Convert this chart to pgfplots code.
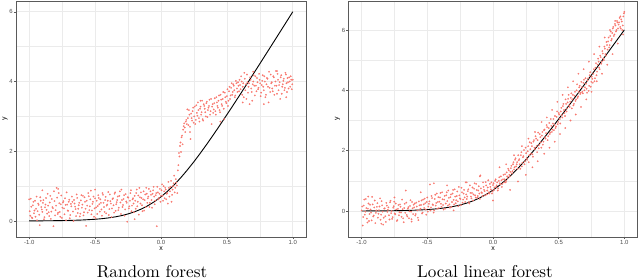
\documentclass[border=0pt]{standalone}
\usepackage{fontspec}
\usepackage{pgfplots}
\usepackage{pgfplotstable}
\pgfplotsset{compat=1.18}
\newfontfamily\ggfont{Liberation Sans}
\newfontfamily\capfont{lmroman10-regular.otf}
\definecolor{ptc}{HTML}{F8766D}
\definecolor{gridc}{HTML}{EBEBEB}
\definecolor{framec}{HTML}{5A5A5A}
\definecolor{tickc}{HTML}{4D4D4D}

\pgfplotstableread{
x rf llf
-1.000 0.62 0.02
-0.992 0.15 -0.48
-0.984 0.41 0.18
-0.976 0.08 -0.12
-0.968 0.55 0.40
-0.960 0.30 -0.25
-0.952 0.12 0.08
-0.944 0.70 -0.33
-0.936 0.28 0.21
-0.928 0.46 -0.05
-0.920 -0.12 0.47
-0.912 0.58 -0.18
-0.904 0.33 0.12
-0.896 0.52 -0.40
-0.888 0.05 0.02
-0.880 0.39 0.26
-0.872 0.66 -0.09
-0.864 0.21 0.15
-0.856 0.44 -0.29
-0.848 0.14 0.33
-0.840 0.72 -0.02
-0.832 0.27 -0.22
-0.824 0.40 0.09
-0.816 -0.15 -0.36
-0.808 0.57 0.18
-0.800 0.31 0.04
-0.792 0.95 -0.14
-0.784 0.20 0.29
-0.776 0.80 -0.07
-0.768 0.26 -0.26
-0.760 0.48 0.11
-0.752 0.09 0.31
-0.744 0.53 -0.11
-0.736 0.36 0.05
-0.728 0.65 -0.30
-0.720 0.02 0.20
-0.712 0.47 -0.04
-0.704 0.29 0.14
-0.696 0.61 -0.19
-0.688 0.17 0.06
-0.680 0.42 -0.37
-0.672 0.55 0.24
-0.664 0.00 0.68
-0.656 0.50 -0.13
-0.648 0.34 0.08
-0.640 0.76 -0.24
-0.632 0.23 0.17
-0.624 0.45 -0.02
-0.616 0.13 0.30
-0.608 0.59 -0.10
-0.600 0.38 0.12
-0.592 0.72 -0.15
-0.584 0.25 0.28
-0.576 0.55 0.02
-0.568 -0.14 -0.30
-0.560 0.44 0.19
-0.552 0.80 0.08
-0.544 0.31 0.35
-0.536 0.62 -0.05
-0.528 0.19 0.22
-0.520 0.49 0.41
-0.512 0.70 0.05
-0.504 0.36 0.30
-0.496 0.08 -0.02
-0.488 0.58 0.24
-0.480 0.43 0.88
-0.472 0.66 0.12
-0.464 0.27 0.43
-0.456 0.52 0.20
-0.448 0.15 0.02
-0.440 0.75 0.54
-0.432 0.40 0.27
-0.424 0.60 0.08
-0.416 0.22 0.46
-0.408 0.47 0.31
-0.400 0.83 0.60
-0.392 0.34 0.14
-0.384 0.57 0.39
-0.376 0.11 0.05
-0.368 0.63 0.50
-0.360 0.45 0.25
-0.352 0.78 0.62
-0.344 0.29 0.18
-0.336 0.54 0.44
-0.328 0.70 0.11
-0.320 0.38 0.55
-0.312 0.85 0.30
-0.304 0.20 0.70
-0.296 0.60 0.22
-0.288 0.46 0.48
-0.280 0.74 0.36
-0.272 0.33 0.65
-0.264 0.56 0.16
-0.256 -0.02 0.52
-0.248 0.67 0.40
-0.240 0.42 0.77
-0.232 0.80 0.28
-0.224 0.28 0.58
-0.216 0.62 0.45
-0.208 0.50 0.95
-0.200 0.72 0.40
-0.192 0.35 0.66
-0.184 0.90 0.30
-0.176 0.55 0.85
-0.168 0.18 0.48
-0.160 0.68 0.60
-0.152 0.82 0.35
-0.144 0.45 0.74
-0.136 0.62 0.52
-0.128 0.30 0.90
-0.120 0.76 0.44
-0.112 0.95 0.68
-0.104 0.52 0.58
-0.096 0.70 1.18
-0.088 0.40 0.62
-0.080 0.85 0.50
-0.072 0.60 0.80
-0.064 0.78 0.66
-0.056 0.98 0.96
-0.048 0.48 0.55
-0.040 0.74 0.78
-0.032 -0.15 0.62
-0.024 0.82 0.90
-0.016 0.66 0.72
-0.008 0.92 0.58
0.000 0.72 0.86
0.008 1.05 0.70
0.016 0.58 1.00
0.024 0.85 0.80
0.032 0.95 0.95
0.040 0.62 0.75
0.048 0.80 1.12
0.056 1.12 0.88
0.064 0.70 1.02
0.072 0.98 0.90
0.080 0.55 1.20
0.088 0.90 1.05
0.096 1.08 0.95
0.104 0.82 1.28
0.112 1.20 1.10
0.120 1.02 1.35
0.128 1.45 1.15
0.136 1.95 1.42
0.144 2.15 1.25
0.152 1.98 1.55
0.160 2.45 1.38
0.168 2.62 1.70
0.176 2.80 1.48
0.184 2.55 1.62
0.192 2.90 1.85
0.200 3.20 1.72
0.208 2.75 1.40
0.216 3.05 1.95
0.224 2.35 1.60
0.232 2.95 1.82
0.240 3.15 1.55
0.248 2.82 2.10
0.256 3.28 1.75
0.264 2.90 1.98
0.272 3.10 1.62
0.280 3.40 2.28
0.288 2.95 1.90
0.296 3.22 2.15
0.304 3.05 1.80
0.312 3.45 2.35
0.320 2.88 2.05
0.328 3.30 2.40
0.336 3.12 1.95
0.344 3.38 2.60
0.352 2.98 2.20
0.360 3.25 2.45
0.368 3.48 2.10
0.376 3.15 2.62
0.384 2.78 2.30
0.392 3.35 2.70
0.400 3.20 2.40
0.408 3.52 2.85
0.416 3.05 2.35
0.424 3.40 2.75
0.432 3.25 2.55
0.440 3.60 3.05
0.448 3.12 2.62
0.456 3.48 2.90
0.464 3.30 2.68
0.472 3.70 3.15
0.480 2.92 2.80
0.488 3.55 3.30
0.496 3.38 2.95
0.504 3.78 3.20
0.512 3.45 2.90
0.520 3.85 3.42
0.528 3.60 3.10
0.536 3.95 3.55
0.544 3.70 3.25
0.552 3.88 3.70
0.560 3.55 3.30
0.568 4.02 3.60
0.576 3.80 3.85
0.584 3.98 3.45
0.592 3.72 3.75
0.600 3.90 3.40
0.608 4.15 3.85
0.616 3.62 3.55
0.624 3.95 3.95
0.632 4.25 3.70
0.640 3.75 4.20
0.648 3.50 3.80
0.656 3.98 4.10
0.664 3.85 3.88
0.672 3.35 4.28
0.680 4.05 3.95
0.688 3.70 4.25
0.696 3.92 4.00
0.704 4.18 4.40
0.712 3.60 4.05
0.720 3.88 4.32
0.728 4.10 3.98
0.736 3.78 4.50
0.744 4.22 4.12
0.752 3.95 4.45
0.760 3.68 4.25
0.768 4.02 4.70
0.776 3.85 4.40
0.784 4.15 4.90
0.792 3.55 4.62
0.800 3.92 5.05
0.808 4.08 4.75
0.816 3.40 5.15
0.824 3.82 4.88
0.832 4.20 5.30
0.840 3.98 5.05
0.848 3.72 5.45
0.856 4.12 5.20
0.864 3.88 5.60
0.872 4.30 5.35
0.880 3.65 5.75
0.888 4.05 5.50
0.896 3.90 5.95
0.904 3.50 5.70
0.912 4.18 6.05
0.920 3.85 5.80
0.928 4.02 6.20
0.936 3.75 5.95
0.944 4.25 6.30
0.952 3.95 6.05
0.960 4.10 6.25
0.968 3.80 6.10
0.976 4.00 6.35
0.984 4.15 6.00
0.992 3.78 6.45
1.000 4.05 6.60
}\dat

\pgfplotstableread{
x rf llf
-0.996 0.28 0.15
-0.988 0.64 -0.20
-0.980 0.10 0.38
-0.972 0.45 -0.02
-0.964 0.22 0.10
-0.956 0.58 -0.38
-0.948 0.35 0.25
-0.940 0.02 -0.10
-0.932 0.50 0.05
-0.924 0.18 -0.31
-0.916 0.68 0.22
-0.908 0.40 -0.15
-0.900 0.26 0.35
-0.892 0.60 -0.06
-0.884 0.11 0.14
-0.876 0.47 -0.22
-0.868 0.32 0.03
-0.860 0.78 0.42
-0.852 0.25 -0.12
-0.844 0.53 0.19
-0.836 0.06 -0.45
-0.828 0.63 0.08
-0.820 0.37 -0.17
-0.812 0.85 0.27
-0.804 0.16 -0.03
-0.796 0.44 0.12
-0.788 0.67 -0.28
-0.780 0.24 0.34
-0.772 0.51 0.00
-0.764 0.12 -0.20
-0.756 0.73 0.16
-0.748 0.38 -0.08
-0.740 0.57 0.25
-0.732 0.19 -0.33
-0.724 0.46 0.07
-0.716 0.82 -0.14
-0.708 0.30 0.22
-0.700 0.55 -0.05
-0.692 0.08 0.38
-0.684 0.49 -0.24
-0.676 0.70 0.10
-0.668 0.27 -0.06
-0.660 0.60 0.28
-0.652 0.41 -0.18
-0.644 0.14 0.13
-0.636 0.66 -0.01
-0.628 0.35 0.36
-0.620 0.52 -0.27
-0.612 0.21 0.09
-0.604 0.74 0.21
-0.596 0.47 0.25
-0.588 0.16 -0.10
-0.580 0.68 0.15
-0.572 0.35 -0.22
-0.564 0.58 0.32
-0.556 0.24 0.04
-0.548 0.71 0.20
-0.540 0.42 -0.08
-0.532 0.87 0.38
-0.524 0.30 0.10
-0.516 0.55 0.26
-0.508 0.12 -0.12
-0.500 0.65 0.45
-0.492 0.39 0.15
-0.484 0.20 0.32
-0.476 0.74 0.02
-0.468 0.48 0.50
-0.460 0.62 0.22
-0.452 0.33 -0.05
-0.444 0.80 0.40
-0.436 0.52 0.18
-0.428 0.26 0.58
-0.420 0.69 0.30
-0.412 0.44 0.10
-0.404 0.58 0.45
-0.396 0.17 0.24
-0.388 0.76 0.62
-0.380 0.50 0.20
-0.372 0.36 0.38
-0.364 0.65 0.08
-0.356 0.24 0.52
-0.348 0.82 0.33
-0.340 0.48 0.68
-0.332 0.60 0.22
-0.324 0.31 0.46
-0.316 0.72 0.14
-0.308 0.53 0.58
-0.300 0.90 0.37
-0.292 0.40 0.72
-0.284 0.63 0.26
-0.276 0.15 0.50
-0.268 0.77 0.32
-0.260 0.52 0.80
-0.252 0.68 0.42
-0.244 0.36 0.20
-0.236 0.58 0.62
-0.228 0.88 0.38
-0.220 0.44 0.70
-0.212 0.65 0.30
-0.204 0.25 0.55
-0.196 0.58 0.48
-0.188 0.80 0.72
-0.180 0.42 0.25
-0.172 0.73 0.60
-0.164 0.95 0.42
-0.156 0.50 0.78
-0.148 0.66 0.55
-0.140 0.28 0.92
-0.132 0.85 0.45
-0.124 0.60 0.70
-0.116 0.40 0.50
-0.108 0.78 0.82
-0.100 0.65 0.40
-0.092 0.92 0.75
-0.084 0.52 0.60
-0.076 0.75 0.95
-0.068 0.38 0.70
-0.060 0.88 0.52
-0.052 0.70 0.85
-0.044 0.58 0.68
-0.036 0.80 1.02
-0.028 0.98 0.58
-0.020 0.62 0.80
-0.012 0.78 0.95
-0.004 0.55 0.65
0.004 0.88 0.92
0.012 0.72 0.78
0.020 1.00 1.05
0.028 0.65 0.85
0.036 0.90 0.68
0.044 0.78 1.00
0.052 0.50 0.92
0.060 0.95 1.15
0.068 0.85 0.80
0.076 1.15 1.05
0.084 0.75 0.95
0.092 1.00 1.22
0.100 1.30 1.00
0.108 0.95 1.15
0.116 1.10 1.40
0.124 0.80 1.20
0.132 1.60 1.30
0.140 1.85 1.50
0.148 2.25 1.32
0.156 2.40 1.62
0.164 2.20 1.45
0.172 2.72 1.75
0.180 2.68 1.55
0.188 2.85 1.40
0.196 2.78 1.68
0.204 2.95 1.55
0.212 3.18 1.85
0.220 2.70 1.48
0.228 3.08 1.78
0.236 2.88 2.02
0.244 3.25 1.65
0.252 3.00 1.92
0.260 2.78 1.70
0.268 3.32 2.15
0.276 3.02 1.85
0.284 3.18 2.05
0.292 2.85 2.25
0.300 3.28 1.88
0.308 3.12 2.30
0.316 2.92 2.10
0.324 3.35 2.48
0.332 3.22 2.15
0.340 3.00 2.35
0.348 3.42 2.08
0.356 3.18 2.55
0.364 3.30 2.28
0.372 3.05 2.50
0.380 3.50 2.20
0.388 3.28 2.68
0.396 3.10 2.45
0.404 3.38 2.58
0.412 3.15 2.78
0.420 3.55 2.48
0.428 3.30 2.92
0.436 3.45 2.60
0.444 3.18 2.82
0.452 3.62 2.70
0.460 3.35 3.05
0.468 3.50 2.85
0.476 3.22 2.75
0.484 3.68 3.12
0.492 3.42 2.88
0.500 3.58 3.25
0.508 3.30 3.05
0.516 3.72 3.30
0.524 3.50 3.18
0.532 3.82 3.48
0.540 3.62 3.35
0.548 3.92 3.15
0.556 3.75 3.55
0.564 3.60 3.40
0.572 3.95 3.72
0.580 3.70 3.50
0.588 3.88 3.62
0.596 4.05 3.90
0.604 3.78 3.70
0.612 4.00 3.50
0.620 3.85 3.82
0.628 3.55 3.65
0.636 4.08 4.00
0.644 3.92 3.75
0.652 4.20 3.95
0.660 3.68 4.15
0.668 3.95 3.92
0.676 4.12 4.10
0.684 3.80 3.90
0.692 3.45 4.35
0.700 4.00 4.10
0.708 3.88 4.22
0.716 4.15 3.92
0.724 3.72 4.40
0.732 3.98 4.15
0.740 3.82 4.60
0.748 4.05 4.28
0.756 3.58 4.38
0.764 3.90 4.55
0.772 4.18 4.30
0.780 3.75 4.75
0.788 4.00 4.50
0.796 3.62 4.85
0.804 4.10 4.95
0.812 3.85 4.70
0.820 4.28 5.10
0.828 3.70 4.95
0.836 3.95 5.22
0.844 3.80 5.00
0.852 4.15 5.38
0.860 3.62 5.15
0.868 4.00 5.50
0.876 3.88 5.62
0.884 4.22 5.42
0.892 3.75 5.80
0.900 3.98 5.65
0.908 4.12 5.90
0.916 3.65 6.10
0.924 3.92 5.85
0.932 4.08 6.15
0.940 3.82 6.00
0.948 4.20 6.25
0.956 3.70 6.18
0.964 3.98 6.40
0.972 4.12 6.05
0.980 3.85 6.28
0.988 4.05 6.15
0.996 3.92 6.55
}\datb

% additional, more scattered points
\pgfplotstableread{
x y
-0.95 0.48
-0.85 -0.42
-0.75 0.45
-0.62 -0.35
-0.55 0.62
-0.45 0.92
-0.35 0.85
-0.30 0.02
-0.20 0.95
-0.10 1.15
0.00 0.35
0.05 1.45
0.10 1.55
0.13 0.70
0.16 1.85
0.19 0.98
0.22 2.15
0.25 1.20
0.27 2.40
0.30 1.45
0.32 2.62
0.34 1.65
0.37 2.95
0.39 1.90
0.41 3.10
0.43 2.10
0.45 3.35
0.47 2.30
0.49 3.62
0.51 2.55
0.53 3.85
0.55 2.75
0.57 4.10
0.59 3.00
0.61 4.30
0.63 3.20
0.65 4.55
0.67 3.45
0.69 4.70
0.71 3.70
0.73 4.95
0.75 3.95
0.77 5.20
0.79 4.30
0.81 5.45
0.83 4.55
0.85 5.75
0.87 4.85
0.89 6.00
0.91 5.20
0.93 6.30
0.95 5.55
0.97 6.45
0.99 5.85
}\llfextra

\pgfplotstableread{
x y
-0.90 0.88
-0.78 0.92
-0.50 0.90
-0.20 0.05
0.22 2.55
0.30 3.45
0.45 2.85
0.62 3.40
0.70 4.28
0.78 3.35
0.88 4.30
0.95 3.55
}\rfextra

\pgfplotstableread{
x y
-1.00 0.0025
-0.90 0.0045
-0.80 0.0082
-0.70 0.0149
-0.60 0.0269
-0.50 0.0486
-0.45 0.0650
-0.40 0.0869
-0.35 0.1156
-0.30 0.1529
-0.25 0.2014
-0.20 0.2633
-0.15 0.3412
-0.10 0.4375
-0.05 0.5544
0.00 0.6931
0.05 0.8544
0.10 1.0375
0.15 1.2412
0.20 1.4633
0.25 1.7014
0.30 1.9530
0.35 2.2155
0.40 2.4869
0.45 2.7650
0.50 3.0486
0.55 3.3360
0.60 3.6270
0.65 3.9200
0.70 4.2149
0.75 4.5110
0.80 4.8082
0.85 5.1060
0.90 5.4045
0.95 5.7030
1.00 6.0025
}\truth

\pgfplotsset{gg/.style={
  scale only axis, anchor=south west,
  axis line style={framec, line width=0.8bp},
  tick pos=left, tick align=outside,
  major tick length=2.2bp, minor tick length=0pt,
  major tick style={framec, line width=0.5bp},
  grid=both,
  major grid style={gridc, line width=0.7bp},
  minor grid style={gridc, line width=0.35bp},
  xtick={-1,-0.5,0,0.5,1}, xticklabels={-1.0,-0.5,0.0,0.5,1.0},
  minor xtick={-0.75,-0.25,0.25,0.75},
  ytick={0,2,4,6}, yticklabels={0,2,4,6},
  minor ytick={1,3,5},
  tick label style={font=\ggfont\fontsize{6}{7}\selectfont, text=tickc},
  xticklabel style={inner sep=1bp},
  yticklabel style={inner sep=1bp},
  xmin=-1.1, xmax=1.1,
  xlabel={x}, ylabel={y},
  label style={font=\ggfont\fontsize{7}{8}\selectfont},
  xlabel style={inner sep=0.5bp},
  ylabel style={inner sep=0.5bp},
},
pts/.style={only marks, color=ptc, mark=*, mark size=0.8bp, mark options={draw=ptc, fill=ptc, line width=0.1bp}}}

\begin{document}
\begin{tikzpicture}
\path[use as bounding box] (0,0) rectangle (640bp,280bp);
\begin{axis}[gg, at={(16bp,43bp)}, width=290bp, height=236bp, ymin=-0.46, ymax=6.31]
\addplot[pts] table[x=x, y=rf]{\dat};
\addplot[pts] table[x=x, y=rf]{\datb};
\addplot[pts] table[x=x, y=y]{\rfextra};
\addplot[black, line width=0.9bp, no marks] table[x=x, y=y]{\truth};
\end{axis}
\begin{axis}[gg, at={(348.5bp,43bp)}, width=289bp, height=236bp, ymin=-0.86, ymax=6.96]
\addplot[pts] table[x=x, y=llf]{\dat};
\addplot[pts] table[x=x, y=llf]{\datb};
\addplot[pts] table[x=x, y=y]{\llfextra};
\addplot[black, line width=0.9bp, no marks] table[x=x, y=y]{\truth};
\end{axis}
\node[anchor=base, font=\capfont\fontsize{17.2}{20}\selectfont] at (152bp,3bp) {Random forest};
\node[anchor=base, font=\capfont\fontsize{17.2}{20}\selectfont] at (485bp,3bp) {Local linear forest};
\end{tikzpicture}
\end{document}
